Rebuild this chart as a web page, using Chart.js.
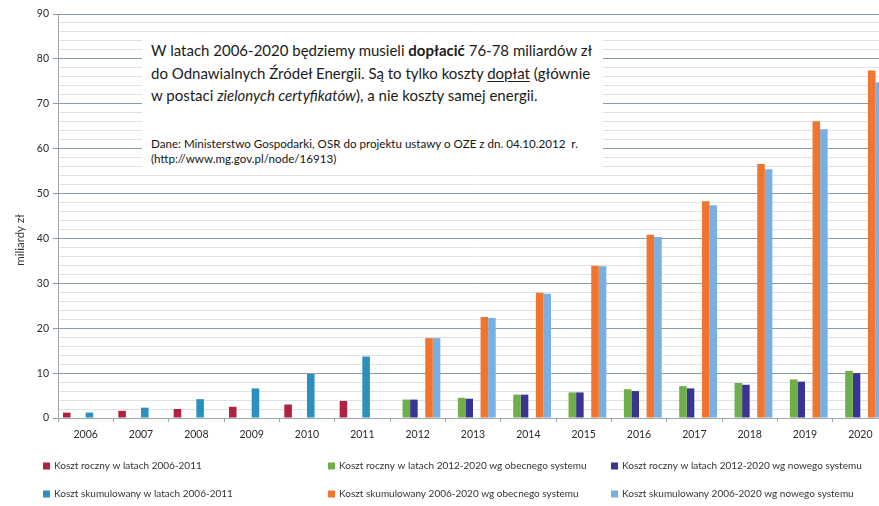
<!DOCTYPE html>
<html lang="pl">
<head>
  <meta charset="UTF-8" />
  <title>Koszty OZE 2006-2020</title>
  <script src="https://cdn.jsdelivr.net/npm/chart.js"></script>
  <style>
    html, body { margin: 0; padding: 0; background: #fff; overflow: hidden; }
    .wrap { position: relative; width: 888px; height: 506px; }
    .note {
      position: absolute; left: 142px; top: 38px; width: 461px; height: 130px;
      background: #fff; font-family: Lato, "Open Sans", sans-serif; color: #1b1b1b;
      box-sizing: border-box; padding: 1px 0 0 9px;
    }
    .note .main { font-size: 15px; line-height: 22.5px; }
    .note .src { font-size: 11.6px; line-height: 15.5px; margin-top: 29px; color: #151515; }
    .note u { text-underline-offset: 2px; }
  </style>
</head>
<body>
  <div class="wrap">
    <canvas id="costChart" width="888" height="506"></canvas>
    <div class="note">
      <div class="main">W latach 2006-2020 będziemy musieli <b>dopłacić</b> 76-78 miliardów zł<br>
      do Odnawialnych Źródeł Energii. Są to tylko koszty <u>dopłat</u> (głównie<br>
      w postaci <i>zielonych certyfikatów</i>), a nie koszty samej energii.</div>
      <div class="src">Dane: Ministerstwo Gospodarki, OSR do projektu ustawy o OZE z dn. 04.10.2012&nbsp; r.<br>
      (http://www.mg.gov.pl/node/16913)</div>
    </div>
  </div>

  <script>
    const years = ["2006", "2007", "2008", "2009", "2010", "2011", "2012", "2013",
                   "2014", "2015", "2016", "2017", "2018", "2019", "2020"];

    // mld zł
    const annual0611 = [1.2, 1.6, 2.0, 2.5, 3.0, 3.8, null, null, null, null, null, null, null, null, null];
    const annualCurrent = [null, null, null, null, null, null, 4.1, 4.5, 5.2, 5.7, 6.4, 7.1, 7.8, 8.6, 10.5];
    const annualNew = [null, null, null, null, null, null, 4.1, 4.3, 5.2, 5.7, 6.0, 6.6, 7.4, 8.1, 10.0];
    const cumul0611 = [1.2, 2.3, 4.2, 6.6, 9.8, 13.7, null, null, null, null, null, null, null, null, null];
    const cumulCurrent = [null, null, null, null, null, null, 17.8, 22.5, 27.9, 33.9, 40.8, 48.3, 56.6, 66.1, 77.4];
    const cumulNew = [null, null, null, null, null, null, 17.8, 22.3, 27.7, 33.8, 40.3, 47.4, 55.4, 64.3, 74.8];

    const seriesNames = [
      "Koszt roczny w latach 2006-2011",
      "Koszt roczny w latach 2012-2020 wg obecnego systemu",
      "Koszt roczny w latach 2012-2020 wg nowego systemu",
      "Koszt skumulowany w latach 2006-2011",
      "Koszt skumulowany 2006-2020 wg obecnego systemu",
      "Koszt skumulowany 2006-2020 wg nowego systemu"
    ];
    const seriesColors = ["#b0223f", "#6fae48", "#3a3593", "#2b90bd", "#f0752e", "#79afe3"];
    const seriesData = [annual0611, annualCurrent, annualNew, cumul0611, cumulCurrent, cumulNew];

    const FONT = "Lato, 'Open Sans', sans-serif";

    // legend in 3 columns x 2 rows under the axis, plus the rotated axis title
    const extras = {
      id: "extras",
      afterDraw(chart) {
        const ctx = chart.ctx;
        const colX = [43, 328, 611];
        const rowY = [466, 494];
        ctx.save();
        ctx.font = "10px " + FONT;
        ctx.textBaseline = "middle";
        chart.data.datasets.forEach((ds, i) => {
          const x = colX[i % 3];
          const y = rowY[Math.floor(i / 3)];
          ctx.fillStyle = ds.backgroundColor;
          ctx.fillRect(x, y - 3.5, 7, 7);
          ctx.fillStyle = "#333";
          ctx.fillText(ds.label, x + 11, y);
        });

        ctx.translate(20, 240);
        ctx.rotate(-Math.PI / 2);
        ctx.textAlign = "center";
        ctx.font = "11.5px " + FONT;
        ctx.fillText("miliardy zł", 0, 0);
        ctx.restore();
      }
    };

    new Chart(document.getElementById("costChart"), {
      type: "bar",
      data: {
        labels: years,
        datasets: seriesData.map((d, i) => ({
          label: seriesNames[i],
          data: d,
          backgroundColor: seriesColors[i],
          borderWidth: 0,
          categoryPercentage: 0.82,
          barPercentage: 1.0,
          skipNull: false
        }))
      },
      options: {
        responsive: false,
        animation: false,
        layout: { padding: { top: 14, right: 0, bottom: 58, left: 0 } },
        plugins: {
          legend: { display: false },
          tooltip: { enabled: false }
        },
        scales: {
          x: {
            afterFit(scale) { scale.height = 30; },
            grid: {
              drawOnChartArea: false,
              tickLength: 4,
              color: "#9aa6ad",
              offset: true
            },
            border: { color: "#9aa6ad" },
            ticks: { color: "#2a2a2a", font: { family: FONT, size: 10.5 }, padding: 6 }
          },
          y: {
            min: 0,
            max: 90,
            afterFit(scale) { scale.width = 58; },
            ticks: {
              stepSize: 2,
              autoSkip: false,
              padding: 4,
              color: "#2a2a2a",
              font: { family: FONT, size: 10.5 },
              callback: v => (v % 10 === 0 ? v : "")
            },
            grid: {
              tickLength: 5,
              color: c => (c.tick && c.tick.value % 10 === 0 ? "#8a9ca6" : "#dde2e5"),
              tickColor: c => (c.tick && c.tick.value % 10 === 0 ? "#8a9ca6" : "rgba(0,0,0,0)")
            },
            border: { color: "#9aa6ad" }
          }
        }
      },
      plugins: [extras]
    });
  </script>
</body>
</html>
